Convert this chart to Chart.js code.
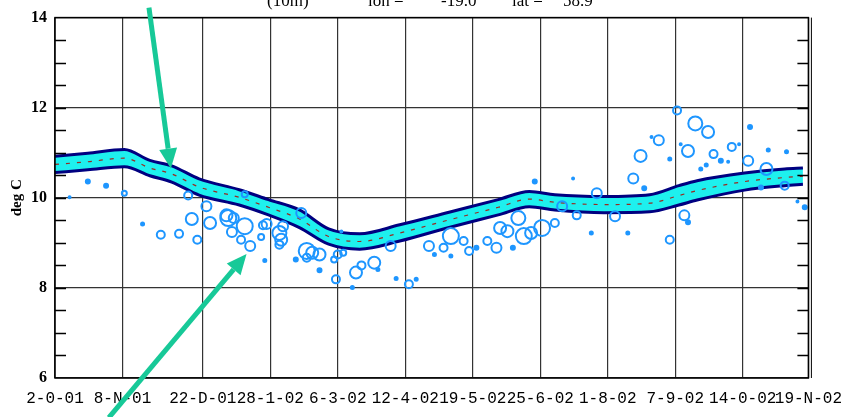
<!DOCTYPE html>
<html><head><meta charset="utf-8">
<script src="https://cdn.jsdelivr.net/npm/chart.js@4.4.1/dist/chart.umd.min.js"></script>
<style>html,body{margin:0;padding:0;background:#fff;overflow:hidden}</style>
</head><body>
<canvas id="c" width="853" height="417"></canvas>
<script>
// ---- data (x = days since 2-Oct-2001, y = deg C) ----
const tickDays   = [0, 37, 81, 118, 155, 192, 229, 266, 303, 340, 377, 413];
const tickLabels = ['2-0-01','8-N-01','22-D-01','28-1-02','6-3-02','12-4-02','19-5-02','25-6-02','1-8-02','7-9-02','14-0-02','19-N-02'];
const yTickValues = [6, 8, 10, 12, 14];

const bandDays   = [0, 18, 38, 52, 64, 79, 101, 117, 134, 150, 167, 189, 216, 243, 260, 274, 301, 326, 342, 352, 378, 400, 410];
const bandTop    = [10.92, 10.99, 11.07, 10.83, 10.71, 10.42, 10.18, 9.96, 9.73, 9.31, 9.20, 9.40, 9.68, 9.96, 10.14, 10.07, 10.03, 10.07, 10.27, 10.38, 10.55, 10.64, 10.66];
const bandBottom = [10.56, 10.62, 10.69, 10.49, 10.35, 10.06, 9.84, 9.62, 9.34, 8.97, 8.86, 9.04, 9.34, 9.62, 9.80, 9.73, 9.67, 9.69, 9.84, 9.95, 10.17, 10.27, 10.30];
const bandMid    = [10.74, 10.80, 10.88, 10.66, 10.53, 10.24, 10.01, 9.79, 9.53, 9.14, 9.03, 9.22, 9.51, 9.79, 9.97, 9.90, 9.85, 9.88, 10.05, 10.16, 10.36, 10.45, 10.48];

const obsDays = [18,28,38,8,73,83,75,85,95,94,104,97,102,107,113,116,58,68,78,48,123,124,123,138,145,135,115,145,132,154,155,98,114,125,141,138,158,153,165,168,175,177,194,198,187,163,184,205,213,217,224,217,208,227,231,237,242,244,248,254,251,257,261,267,274,263,284,286,297,278,307,294,341,351,358,381,331,327,347,343,371,375,321,361,365,369,337,357,354,380,391,401,317,323,390,387,400,345,347,314,337,407,411,157,104];
const obsTemp = [10.36,10.27,10.10,10.01,10.05,9.81,9.53,9.44,9.55,9.61,9.37,9.24,9.07,8.93,9.13,9.42,9.18,9.20,9.07,9.42,9.22,9.07,8.96,8.82,8.74,9.66,8.61,8.39,8.63,8.19,8.74,9.55,9.39,9.37,8.78,8.67,8.78,8.63,8.34,8.50,8.56,8.41,8.08,8.19,8.21,8.01,8.93,8.93,8.89,9.15,9.04,8.71,8.74,8.82,8.89,9.04,8.89,9.33,9.26,9.55,8.89,9.15,9.22,9.33,9.44,10.36,10.43,9.61,10.10,9.81,9.59,9.22,11.94,11.65,11.46,11.57,11.28,11.35,11.04,11.19,11.13,11.19,10.93,10.97,10.82,10.80,10.86,10.73,10.64,10.82,11.06,11.02,10.43,10.21,10.64,10.23,10.27,9.61,9.46,9.22,9.07,9.92,9.79,9.25,10.08];
const obsSize = [2,2,2.5,1,4,5,6,6,8,6,8,5,4,5,3,5,4,4,4,1.5,7,6,4,8,6,5,1.5,2,2,4,4,5,4,5,6,4,3,3,6,4,6,1.5,4,1.5,1.5,1.5,5,5,4,8,4,1.5,1.5,4,2,4,5,6,6,7,2,8,6,8,4,2,1,4,5,5,5,1.5,4,7,6,2,5,1,6,1,4,1,6,4,2,1,1.5,1.5,1.5,5,1.5,1.5,5,2,6,2,4,5,2,1.5,4,1,2,1,3];

// annotation arrows: [fromDay, fromTemp, toDay, toTemp]
const arrows = [[51.5, 14.22, 63.5, 10.65], [29.5, 5.12, 105, 8.75]];
const titleParts = ['(10m)', 'lon =', '-19.0', 'lat =', '58.9'];

// ---- build ----
const toXY = (xs, ys) => xs.map((x, i) => ({x, y: ys[i]}));
const bubbles = obsDays.map((d, i) => ({x: d, y: obsTemp[i], r: obsSize[i]}));
const blue = 'rgb(30,150,255)';

const framePlugin = {
  id: 'frame',
  afterDraw(chart) {
    const {ctx, chartArea: a, scales} = chart;
    const ys = scales.y;
    ctx.save();
    ctx.strokeStyle = '#000'; ctx.lineWidth = 1.3;
    for (let v = 6.5; v < 14; v += 0.5) {
      const py = Math.round(ys.getPixelForValue(v)) + 0.5;
      ctx.beginPath();
      ctx.moveTo(a.left, py); ctx.lineTo(a.left + 11, py);
      ctx.moveTo(a.right - 11, py); ctx.lineTo(a.right, py);
      ctx.stroke();
    }
    ctx.lineWidth = 1.5;
    ctx.strokeRect(a.left, a.top, a.right - a.left, a.bottom - a.top);
    ctx.lineWidth = 1;
    ctx.beginPath(); ctx.moveTo(a.right + 3, a.top); ctx.lineTo(a.right + 3, a.bottom); ctx.stroke();
    ctx.fillStyle = '#000';
    ctx.font = '17px "Liberation Serif"';
    ctx.textBaseline = 'alphabetic';
    const tx = [267, 368, 441, 512, 563];
    titleParts.forEach((t, i) => ctx.fillText(t, tx[i], 6));
    const xs = scales.x;
    ctx.strokeStyle = '#17c998'; ctx.fillStyle = '#17c998';
    arrows.forEach(([d0, t0, d1, t1]) => {
      const x0 = xs.getPixelForValue(d0), y0 = ys.getPixelForValue(t0);
      const x1 = xs.getPixelForValue(d1), y1 = ys.getPixelForValue(t1);
      const ang = Math.atan2(y1 - y0, x1 - x0);
      const hl = 20, hw = 9;
      const bx = x1 - hl * Math.cos(ang), by = y1 - hl * Math.sin(ang);
      ctx.lineWidth = 5;
      ctx.beginPath(); ctx.moveTo(x0, y0); ctx.lineTo(bx, by); ctx.stroke();
      ctx.beginPath();
      ctx.moveTo(x1, y1);
      ctx.lineTo(bx + hw * Math.sin(ang), by - hw * Math.cos(ang));
      ctx.lineTo(bx - hw * Math.sin(ang), by + hw * Math.cos(ang));
      ctx.closePath(); ctx.fill();
    });
    ctx.restore();
  }
};

new Chart(document.getElementById('c'), {
  type: 'line',
  data: {
    datasets: [
      {data: toXY(bandDays, bandTop), borderColor: '#000080', borderWidth: 3, backgroundColor: '#1ef0ee',
       fill: '+1', pointRadius: 0, cubicInterpolationMode: 'monotone', order: 3},
      {data: toXY(bandDays, bandBottom), borderColor: '#000080', borderWidth: 3,
       fill: false, pointRadius: 0, cubicInterpolationMode: 'monotone', order: 2},
      {data: toXY(bandDays, bandMid), borderColor: '#9a2a20', borderWidth: 1.2, borderDash: [4, 7],
       fill: false, pointRadius: 0, cubicInterpolationMode: 'monotone', order: 1},
      {type: 'bubble', data: bubbles, borderColor: blue, borderWidth: 2,
       backgroundColor: bubbles.map(b => b.r < 2.5 ? blue : 'rgba(0,0,0,0)'), order: 0}
    ]
  },
  options: {
    responsive: false, animation: false, devicePixelRatio: 1,
    layout: {padding: {top: 10, right: 44, left: 0, bottom: 0}},
    plugins: {legend: {display: false}, tooltip: {enabled: false}},
    scales: {
      x: {
        type: 'linear', min: 0, max: 413,
        afterBuildTicks: s => { s.ticks = tickDays.map(v => ({value: v})); },
        afterFit: s => { s.height = 39; },
        ticks: {autoSkip: false, maxRotation: 0, padding: 11, color: '#000',
                font: {family: '"Liberation Mono"', size: 16},
                callback: v => tickLabels[tickDays.indexOf(v)]},
        grid: {color: '#333', lineWidth: 1.2, drawTicks: false},
        border: {display: false}
      },
      y: {
        min: 6, max: 14,
        afterBuildTicks: s => { s.ticks = yTickValues.map(v => ({value: v})); },
        afterFit: s => { s.width = 55; },
        ticks: {padding: 8, color: '#000', font: {family: '"Liberation Serif"', weight: 'bold', size: 16}},
        grid: {color: '#333', lineWidth: 1.2, drawTicks: false},
        border: {display: false},
        title: {display: true, text: 'deg C', color: '#000', padding: {top: 8, bottom: 0},
                font: {family: '"Liberation Serif"', weight: 'bold', size: 15}}
      }
    }
  },
  plugins: [framePlugin]
});
</script>
</body></html>
